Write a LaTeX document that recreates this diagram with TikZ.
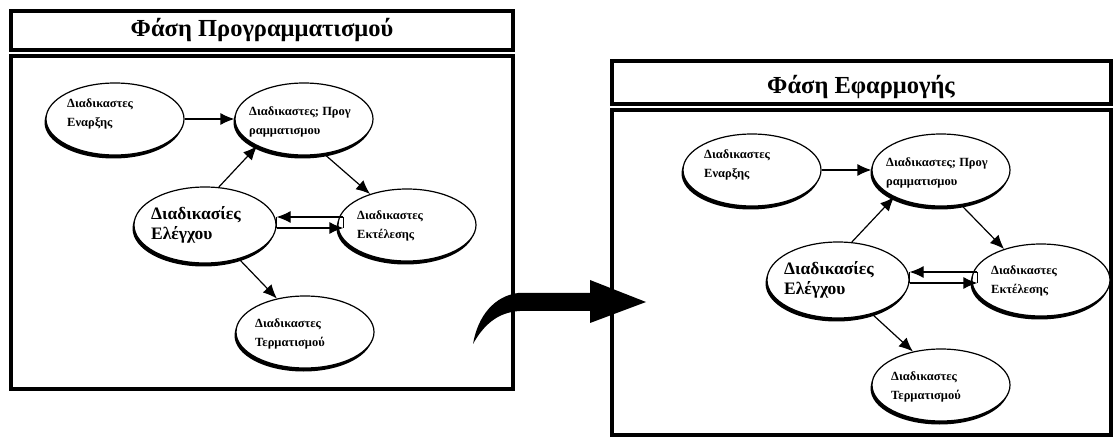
\documentclass[tikz,border=0pt]{standalone}
\usepackage{fontspec}
\setmainfont{Liberation Serif}
\usetikzlibrary{arrows.meta,shadows,calc,shapes.geometric}
\tikzset{
 panel/.style={draw=black, line width=4.5pt},
 ttl/.style={font=\bfseries\fontsize{24.5}{28}\selectfont, inner sep=0pt},
 proc/.style={ellipse, draw=black, line width=1.2pt, fill=white, minimum width=138pt, minimum height=72pt, inner sep=0pt,
   drop shadow={shadow xshift=-1.5pt, shadow yshift=-3.5pt, opacity=1, fill=black}},
 bigproc/.style={proc, minimum width=142pt, minimum height=76pt},
 ptxt/.style={font=\bfseries\fontsize{12.5}{19}\selectfont, align=left, anchor=west, inner sep=0pt},
 btxt/.style={font=\bfseries\fontsize{17.5}{20}\selectfont, align=left, anchor=west, inner sep=0pt},
 conn/.style={draw=black, line width=1.2pt, -{Latex[length=14pt,width=12pt]}},
 bar/.style={draw=black, line width=1.2pt},
}
\begin{document}
\begin{tikzpicture}[x=1pt,y=-1pt]
\useasboundingbox (0,0) rectangle (1114,438);
\fill[white] (0,0) rectangle (1114,438);

% ---------- left panel ----------
\draw[panel] (11,11) rectangle (513,50);
\draw[panel] (11,56) rectangle (513,389);
\node[ttl] (t1) at (262,30) {Φάση Προγραμματισμού};

\node[proc] (st) at (115,119) {};
\node[proc] (pg) at (304,119) {};
\node[bigproc] (ctl) at (205,225) {};
\node[proc] (exe) at (407,225) {};
\node[proc] (term) at (305,332) {};

\node[ptxt] (stT) at ($(st)+(-48,-5)$) {Διαδικαστες\\Εναρξης};
\node[ptxt] (pgT) at ($(pg)+(-55,3)$) {Διαδικαστες; Προγ\\ραμματισμου};
\node[btxt] (ctlT) at ($(ctl)+(-54,0)$) {Διαδικασίες\\Ελέγχου};
\node[ptxt] (exeT) at ($(exe)+(-50,1)$) {Διαδικαστες\\Εκτέλεσης};
\node[ptxt] (termT) at ($(term)+(-50,2)$) {Διαδικαστες\\Τερματισμού};

\draw[conn] (st.east) -- (pg.west);
\draw[conn] (ctl.70) -- (pg.210);
\draw[conn] (pg.300) -- (exe.140);
\draw[conn] (ctl.315) -- (term.130);
\draw[conn] ($(exe.west)+(6,-8)$) -- ($(ctl.east)+(0,-8)$);
\draw[conn] ($(ctl.east)+(0,3)$) -- ($(exe.west)+(6,3)$);
\draw[bar] ($(ctl.east)+(0,-8)$) -- ($(ctl.east)+(0,3)$);
\draw[bar] ($(exe.west)+(6,-8)$) -- ($(exe.west)+(6,3)$);

% ---------- right panel ----------
\draw[panel] (612,61) rectangle (1111,104);
\draw[panel] (612,110) rectangle (1111,435);
\node[ttl] (t2) at (861,87) {Φάση Εφαρμογής};

\node[proc] (st2) at (752,170) {};
\node[proc] (pg2) at (941,170) {};
\node[bigproc] (ctl2) at (838,280) {};
\node[proc] (exe2) at (1041,280) {};
\node[proc] (term2) at (941,385) {};

\node[ptxt] (st2T) at ($(st2)+(-48,-5)$) {Διαδικαστες\\Εναρξης};
\node[ptxt] (pg2T) at ($(pg2)+(-55,3)$) {Διαδικαστες; Προγ\\ραμματισμου};
\node[btxt] (ctl2T) at ($(ctl2)+(-54,0)$) {Διαδικασίες\\Ελέγχου};
\node[ptxt] (exe2T) at ($(exe2)+(-50,1)$) {Διαδικαστες\\Εκτέλεσης};
\node[ptxt] (term2T) at ($(term2)+(-50,2)$) {Διαδικαστες\\Τερματισμού};

\draw[conn] (st2.east) -- (pg2.west);
\draw[conn] (ctl2.70) -- (pg2.210);
\draw[conn] (pg2.300) -- (exe2.140);
\draw[conn] (ctl2.315) -- (term2.130);
\draw[conn] ($(exe2.west)+(6,-8)$) -- ($(ctl2.east)+(0,-8)$);
\draw[conn] ($(ctl2.east)+(0,3)$) -- ($(exe2.west)+(6,3)$);
\draw[bar] ($(ctl2.east)+(0,-8)$) -- ($(ctl2.east)+(0,3)$);
\draw[bar] ($(exe2.west)+(6,-8)$) -- ($(exe2.west)+(6,3)$);

% ---------- big transition arrow ----------
\fill[black] (473,344) .. controls (478,315) and (495,296) .. (518,293)
  -- (590,293) -- (590,280) -- (646,302) -- (590,323) -- (590,311) -- (520,311)
  .. controls (497,312) and (483,326) .. (473,344) -- cycle;
\end{tikzpicture}
\end{document}
